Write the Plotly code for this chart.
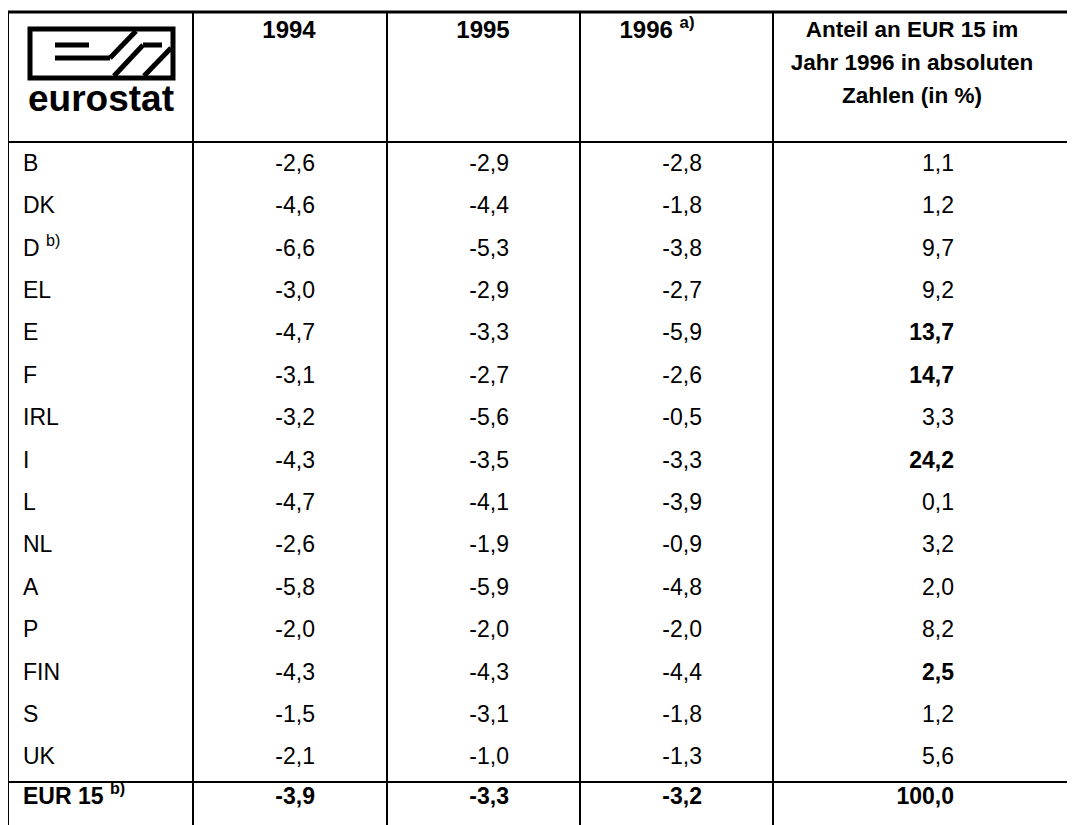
import plotly.graph_objects as go

# table data (Eurostat, Defizit in % des BIP)
countries = ["B", "DK", "D <sup>b)</sup>", "EL", "E", "F", "IRL", "I", "L", "NL",
             "A", "P", "FIN", "S", "UK"]
v1994 = [-2.6, -4.6, -6.6, -3.0, -4.7, -3.1, -3.2, -4.3, -4.7, -2.6, -5.8, -2.0, -4.3, -1.5, -2.1]
v1995 = [-2.9, -4.4, -5.3, -2.9, -3.3, -2.7, -5.6, -3.5, -4.1, -1.9, -5.9, -2.0, -4.3, -3.1, -1.0]
v1996 = [-2.8, -1.8, -3.8, -2.7, -5.9, -2.6, -0.5, -3.3, -3.9, -0.9, -4.8, -2.0, -4.4, -1.8, -1.3]
anteil = [1.1, 1.2, 9.7, 9.2, 13.7, 14.7, 3.3, 24.2, 0.1, 3.2, 2.0, 8.2, 2.5, 1.2, 5.6]
anteil_bold = [False, False, False, False, True, True, False, True, False, False,
               False, False, True, False, False]
total_label = "EUR 15 <sup>b)</sup>"
total_vals = [-3.9, -3.3, -3.2, 100.0]
year_headers = ["1994", "1995", "1996 <sup>a)</sup>"]
share_header = ["Anteil an EUR 15 im", "Jahr 1996 in absoluten", "Zahlen (in %)"]

W, H = 1075, 825
OFF = 8  # default body margin of the html page
FONT = "Liberation Sans, Arial, sans-serif"
col_x = [8, 193, 387, 580, 773]
top_y, head_y, tot_line_y = 12, 142, 782
row_y0, row_dy = 165, 42.4
tot_y = 798
FS = 23


def fmt(v):
    return f"{v:.1f}".replace(".", ",")


fig = go.Figure()

rows_y = [row_y0 + i * row_dy for i in range(len(countries))]

# row labels
fig.add_trace(go.Scatter(x=[23] * len(countries), y=rows_y, mode="text",
                         text=countries, textposition="middle right",
                         textfont=dict(family=FONT, size=FS, color="black")))

# year columns
for k, vals in enumerate([v1994, v1995, v1996]):
    fig.add_trace(go.Scatter(x=[col_x[k + 1] + 122] * len(vals), y=rows_y, mode="text",
                             text=[fmt(v) for v in vals], textposition="middle left",
                             textfont=dict(family=FONT, size=FS, color="black")))

# share column
fig.add_trace(go.Scatter(x=[954] * len(anteil), y=rows_y, mode="text",
                         text=[f"<b>{fmt(v)}</b>" if b else fmt(v)
                               for v, b in zip(anteil, anteil_bold)],
                         textposition="middle left",
                         textfont=dict(family=FONT, size=FS, color="black")))

# total row
fig.add_trace(go.Scatter(x=[23], y=[tot_y], mode="text", text=[f"<b>{total_label}</b>"],
                         textposition="middle right",
                         textfont=dict(family=FONT, size=FS, color="black")))
fig.add_trace(go.Scatter(x=[col_x[1] + 122, col_x[2] + 122, col_x[3] + 122, 954],
                         y=[tot_y] * 4, mode="text",
                         text=[f"<b>{fmt(v)}</b>" for v in total_vals],
                         textposition="middle left",
                         textfont=dict(family=FONT, size=FS, color="black")))

# headers
fig.add_trace(go.Scatter(x=[289, 483, 657], y=[32] * 3, mode="text",
                         text=[f"<b>{h}</b>" for h in year_headers],
                         textposition="middle center",
                         textfont=dict(family=FONT, size=24, color="black")))
fig.add_trace(go.Scatter(x=[912] * 3, y=[31, 64, 97], mode="text",
                         text=[f"<b>{h}</b>" for h in share_header],
                         textposition="middle center",
                         textfont=dict(family=FONT, size=22.5, color="black")))

# logo
fig.add_trace(go.Scatter(x=[101], y=[102], mode="text", text=["<b>eurostat</b>"],
                         textposition="middle center",
                         textfont=dict(family=FONT, size=37, color="black")))

shapes = []
for yy, w in [(top_y, 3), (head_y, 2), (tot_line_y, 2)]:
    shapes.append(dict(type="line", x0=col_x[0], x1=W + OFF, y0=yy, y1=yy,
                       line=dict(color="black", width=w)))
for xx in col_x:
    shapes.append(dict(type="line", x0=xx, x1=xx, y0=top_y, y1=H + OFF,
                       line=dict(color="black", width=2)))

# logo box and strokes
shapes.append(dict(type="rect", x0=30, x1=173, y0=29, y1=78,
                   line=dict(color="black", width=5)))
logo_strokes = [
    (55, 45, 89, 45),
    (55, 58, 110, 58),
    (110, 58, 136, 31),
    (114, 76, 143, 45),
    (143, 45, 162, 45),
    (144, 76, 171, 48),
]
for x0, y0, x1, y1 in logo_strokes:
    shapes.append(dict(type="line", x0=x0, y0=y0, x1=x1, y1=y1,
                       line=dict(color="black", width=5)))

fig.update_layout(
    width=W, height=H,
    margin=dict(l=0, r=0, t=0, b=0),
    paper_bgcolor="white", plot_bgcolor="white",
    showlegend=False,
    shapes=shapes,
    xaxis=dict(range=[OFF, W + OFF], visible=False, fixedrange=True),
    yaxis=dict(range=[H + OFF, OFF], visible=False, fixedrange=True),
)

fig.write_html("out.html", config={"displayModeBar": False})
